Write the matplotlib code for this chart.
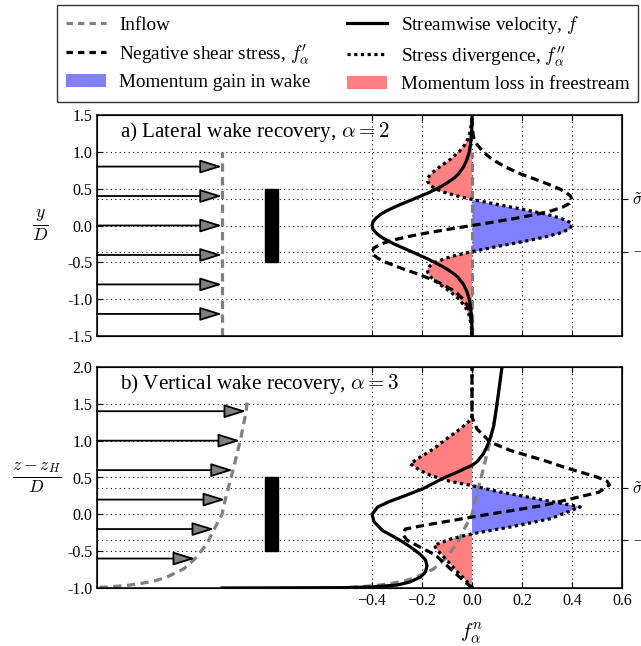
import numpy as np
import matplotlib
matplotlib.use('Agg')
import matplotlib.pyplot as plt
from matplotlib.lines import Line2D
from matplotlib.patches import Patch

plt.rcParams['font.family'] = ['Liberation Serif', 'DejaVu Serif']
plt.rcParams['mathtext.fontset'] = 'cm'

# ---------------- data: panel a (lateral, alpha = 2) ----------------
y_top = [-1.5, -1.4, -1.3, -1.2, -1.1, -1.0, -0.9, -0.8, -0.7, -0.65, -0.6, -0.55,
         -0.5, -0.45, -0.4, -0.35, -0.3, -0.25, -0.2, -0.15, -0.1, -0.05, 0.0,
         0.05, 0.1, 0.15, 0.2, 0.25, 0.3, 0.35, 0.4, 0.45, 0.5, 0.55, 0.6, 0.65,
         0.7, 0.8, 0.9, 1.0, 1.1, 1.2, 1.3, 1.4, 1.5]
f_top = [0.0, 0.0, -0.001, -0.003, -0.006, -0.011, -0.02, -0.034, -0.057, -0.075,
         -0.096, -0.122, -0.15, -0.18, -0.212, -0.245, -0.279, -0.312, -0.341,
         -0.366, -0.384, -0.396, -0.4,
         -0.396, -0.384, -0.366, -0.341, -0.31, -0.276, -0.24, -0.205, -0.17,
         -0.14, -0.113, -0.09, -0.07, -0.054, -0.033, -0.02, -0.011, -0.006,
         -0.003, -0.001, 0.0, 0.0]
fp_top = [-0.0003, -0.001, -0.003, -0.007, -0.016, -0.035, -0.066, -0.116, -0.185,
          -0.224, -0.266, -0.307, -0.344, -0.374, -0.394, -0.400, -0.390, -0.363,
          -0.318, -0.255, -0.179, -0.092, 0.0,
          0.092, 0.179, 0.255, 0.318, 0.363, 0.390, 0.400, 0.394, 0.376, 0.348,
          0.313, 0.275, 0.235, 0.195, 0.13, 0.08, 0.045, 0.02, 0.006, 0.002,
          0.0, 0.0]
fpp_top = [-0.001, -0.002, -0.006, -0.013, -0.028, -0.052, -0.086, -0.128, -0.165,
           -0.176, -0.178, -0.169, -0.147, -0.110, -0.059, 0.006, 0.079, 0.156,
           0.232, 0.300, 0.354, 0.388, 0.4,
           0.388, 0.354, 0.300, 0.232, 0.156, 0.079, 0.006, -0.059, -0.110,
           -0.147, -0.169, -0.178, -0.176, -0.165, -0.128, -0.086, -0.052,
           -0.028, -0.013, -0.006, -0.002, -0.001]
y_inflow_top = [-1.5, 1.0]
u_inflow_top = [0.0, 0.0]
arrow_y_top = [0.8, 0.4, 0.0, -0.4, -0.8, -1.2]
arrow_u_top = [0.0, 0.0, 0.0, 0.0, 0.0, 0.0]

# ---------------- data: panel b (vertical, alpha = 3) ----------------
z_f_bot = [-1.0, -0.995, -0.985, -0.96, -0.92, -0.85, -0.78, -0.7, -0.62, -0.55,
           -0.47, -0.38, -0.3, -0.22, -0.1, 0.0, 0.1, 0.17, 0.25, 0.35, 0.42,
           0.5, 0.56, 0.62, 0.67, 0.72, 0.82, 0.9, 1.0, 1.2, 1.5, 1.8, 2.0]
f_bot = [-1.0, -0.5, -0.4, -0.3, -0.25, -0.205, -0.186, -0.18, -0.186, -0.205,
         -0.235, -0.274, -0.315, -0.358, -0.392, -0.4, -0.377, -0.333, -0.27,
         -0.195, -0.155, -0.11, -0.067, -0.03, 0.003, 0.022, 0.045, 0.057,
         0.07, 0.087, 0.1, 0.112, 0.12]
z_fp_bot = [-1.0, -0.96, -0.76, -0.55, -0.45, -0.35, -0.28, -0.2, -0.15, -0.014,
            0.122, 0.30, 0.40, 0.45, 0.506, 0.574, 0.642, 0.733, 0.80, 0.868,
            0.98, 1.16, 1.32, 2.0]
fp_bot = [0.0, -0.013, -0.08, -0.147, -0.205, -0.26, -0.275, -0.267, -0.193, 0.04,
          0.287, 0.507, 0.55, 0.54, 0.5, 0.433, 0.367, 0.287, 0.22, 0.153,
          0.073, 0.02, 0.0, 0.0]
z_fpp_bot = [-1.0, -0.98, -0.8, -0.6, -0.5, -0.42, -0.33, -0.265, -0.172, -0.06,
             0.1, 0.212, 0.303, 0.39, 0.447, 0.529, 0.60, 0.687, 0.777, 0.89,
             1.03, 1.16, 1.3, 2.0]
fpp_bot = [0.0, 0.0, -0.053, -0.107, -0.135, -0.152, -0.08, 0.0, 0.153, 0.313,
           0.433, 0.26, 0.113, 0.0, -0.087, -0.167, -0.21, -0.247, -0.207,
           -0.153, -0.1, -0.047, 0.0, 0.0]
z_inflow_bot = [-0.99, -0.985, -0.96, -0.94, -0.9, -0.85, -0.74, -0.6, -0.4, -0.2,
                0.0, 0.2, 0.6, 1.0, 1.4, 1.52]
u_inflow_bot = [-0.49, -0.45, -0.37, -0.327, -0.265, -0.22, -0.153, -0.107, -0.06,
                -0.031, 0.0, 0.013, 0.044, 0.073, 0.097, 0.10]
arrow_z_bot = [1.4, 1.0, 0.6, 0.2, -0.2, -0.6]
arrow_u_bot = [0.097, 0.073, 0.044, 0.013, -0.031, -0.107]

turbine_y = [-0.5, 0.5]
turbine_x = [-0.827, -0.774]
sigma_t = 0.354
inflow_offset = -1.0

xticks = [-0.4, -0.2, 0.0, 0.2, 0.4, 0.6]
xticklabels = ['\u22120.4', '\u22120.2', '0.0', '0.2', '0.4', '0.6']
yticks_top = [-1.5, -1.0, -0.5, 0.0, 0.5, 1.0, 1.5]
yticklabels_top = ['-1.5', '-1.0', '-0.5', '0.0', '0.5', '1.0', '1.5']
yticks_bot = [-1.0, -0.5, 0.0, 0.5, 1.0, 1.5, 2.0]
yticklabels_bot = ['-1.0', '-0.5', '0.0', '0.5', '1.0', '1.5', '2.0']

BLUE = '#8080ff'
RED = '#ff8080'
GRAY = '#808080'
LW = 2.3

W, H = 641, 646
fig = plt.figure(figsize=(W / 100, H / 100), dpi=100)
ax_a = fig.add_axes([97 / W, 1 - 336 / H, 525 / W, 221 / H])
ax_b = fig.add_axes([97 / W, 1 - 588 / H, 525 / W, 221 / H])


def panel(ax, yv, f, yfp, fp, yfpp, fpp, yin, uin, ay, au, ylim, yt, ytl, title):
    ax.set_xlim(-1.5, 0.6)
    ax.set_ylim(*ylim)
    ax.set_xticks(xticks)
    ax.set_yticks(yt)
    ax.set_yticklabels(ytl)
    ax.set_axisbelow(True)
    ax.grid(True, color='k', linestyle=(0, (1, 3)), linewidth=0.8)
    for s in (-sigma_t, sigma_t):
        ax.axhline(s, color='k', linestyle=(0, (1, 3)), linewidth=0.8, zorder=0.5)
    yfpp_a = np.array(yfpp)
    fpp_a = np.array(fpp)
    ax.fill_betweenx(yfpp_a, 0, fpp_a, where=fpp_a >= 0, interpolate=True,
                     color=BLUE, linewidth=0, zorder=1)
    ax.fill_betweenx(yfpp_a, 0, fpp_a, where=fpp_a <= 0, interpolate=True,
                     color=RED, linewidth=0, zorder=1)
    uin_a = np.array(uin)
    ax.plot(uin_a, yin, color=GRAY, lw=LW, dashes=(2.6, 1.7), zorder=2)
    ax.plot(uin_a + inflow_offset, yin, color=GRAY, lw=LW, dashes=(2.6, 1.7), zorder=2)
    ax.plot(f, yv, color='k', lw=LW, zorder=3)
    ax.plot(fp, yfp, color='k', lw=LW, dashes=(2.6, 1.5), zorder=3)
    ax.plot(fpp, yfpp, color='k', lw=LW, dashes=(1, 1.1), zorder=3)
    for yy, uu in zip(ay, au):
        ax.annotate('', xy=(uu + inflow_offset, yy), xytext=(-1.5, yy),
                    arrowprops=dict(arrowstyle='-|>,head_length=1.35,head_width=0.42',
                                    mutation_scale=10, fc=GRAY, ec='k', lw=1.3,
                                    shrinkA=0, shrinkB=0), zorder=4)
    ax.fill_betweenx(turbine_y, turbine_x[0], turbine_x[1], color='k', zorder=4)
    ax.text(0.044, 0.925, title, transform=ax.transAxes, fontsize=15.2,
            ha='left', va='center')
    ax.tick_params(direction='in', length=4, labelsize=11.5, top=True, right=False)
    for sp in ax.spines.values():
        sp.set_linewidth(1.1)
    tw = ax.twinx()
    tw.set_ylim(*ylim)
    tw.set_yticks([-sigma_t, sigma_t])
    tw.set_yticklabels([r'$-\tilde{\sigma}$', r'$\tilde{\sigma}$'])
    tw.tick_params(direction='out', length=4, labelsize=12)


panel(ax_a, y_top, f_top, y_top, fp_top, y_top, fpp_top, y_inflow_top, u_inflow_top,
      arrow_y_top, arrow_u_top, (-1.5, 1.5), yticks_top, yticklabels_top,
      r'a) Lateral wake recovery, $\alpha = 2$')
panel(ax_b, z_f_bot, f_bot, z_fp_bot, fp_bot, z_fpp_bot, fpp_bot, z_inflow_bot,
      u_inflow_bot, arrow_z_bot, arrow_u_bot, (-1.0, 2.0), yticks_bot,
      yticklabels_bot, r'b) Vertical wake recovery, $\alpha = 3$')

ax_a.set_xticklabels([])
ax_b.set_xticklabels(xticklabels)

ax_a.set_ylabel(r'$\frac{y}{D}$', rotation=0, fontsize=18, ha='center', va='center')
ax_a.yaxis.set_label_coords(-0.109, 0.5)
ax_b.set_ylabel(r'$\frac{z-z_H}{D}$', rotation=0, fontsize=18, ha='center', va='center')
ax_b.yaxis.set_label_coords(-0.114, 0.5)
ax_b.set_xlabel(r'$f^n_\alpha$', fontsize=15, va='center')
ax_b.xaxis.set_label_coords(0.714, -0.205)

handles = [
    Line2D([], [], color=GRAY, lw=LW, dashes=(2.0, 1.6)),
    Line2D([], [], color='k', lw=LW, dashes=(2.0, 1.6)),
    Patch(facecolor=BLUE, edgecolor='none'),
    Line2D([], [], color='k', lw=LW),
    Line2D([], [], color='k', lw=LW, dashes=(1, 1.1)),
    Patch(facecolor=RED, edgecolor='none'),
]
labels = ['Inflow', r"Negative shear stress, $f^{\prime}_{\alpha}$",
          'Momentum gain in wake',
          r'Streamwise velocity, $f$', r"Stress divergence, $f^{\prime\prime}_{\alpha}$",
          'Momentum loss in freestream']
leg = fig.legend(handles, labels, ncol=2, loc='upper left',
                 bbox_to_anchor=(57 / W, 1 - 5 / H), fontsize=13.8, frameon=True,
                 fancybox=False, edgecolor='k', handlelength=2.1, handletextpad=0.7,
                 columnspacing=1.9, labelspacing=0.42, borderpad=0.45, borderaxespad=0)
leg.get_frame().set_linewidth(1.0)

fig.savefig('out.png', dpi=100)
